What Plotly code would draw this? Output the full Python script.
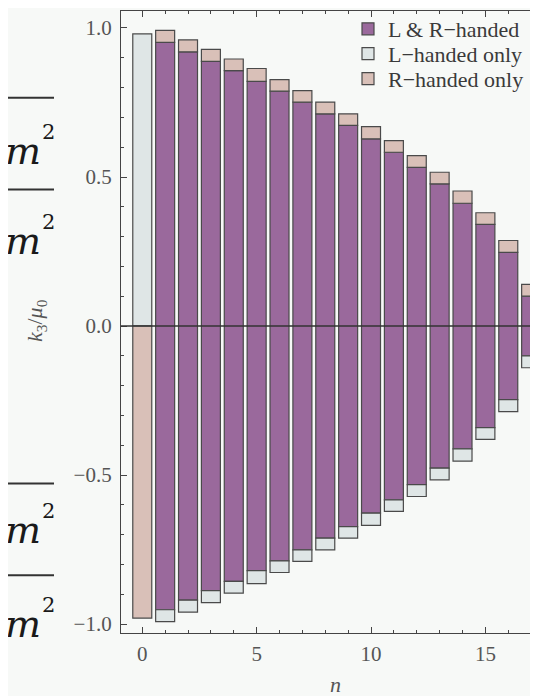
import plotly.graph_objects as go

# ---- data ----
n_vals = list(range(0, 18))
# half-height of the purple "L & R-handed" bar (symmetric about zero), n = 0 has none
lr_half = [0.0, 0.952, 0.920, 0.888, 0.857, 0.821, 0.788, 0.751, 0.712, 0.673,
           0.628, 0.583, 0.532, 0.477, 0.412, 0.341, 0.247, 0.100]
# outer extent of the bar including the single-handed cap
outer = [0.980, 0.992, 0.960, 0.928, 0.896, 0.864, 0.827, 0.790, 0.751, 0.712,
         0.669, 0.622, 0.572, 0.516, 0.453, 0.380, 0.287, 0.140]
y_ticks = [-1.0, -0.5, 0.0, 0.5, 1.0]
x_ticks = [0, 5, 10, 15]

PURPLE = "#9a699c"
LIGHT = "#dfe6e6"
PINK = "#d9c0b8"
EDGE = "#4a4a4a"
BG = "#f7f9f7"
SERIF = "Liberation Serif"

cap = [o - h for o, h in zip(outer, lr_half)]

# page body has an 8px margin: work in reference coords and shift by OFF
OFF = 8
W, H = 538 - OFF, 696 - OFF
L, R, T, B = 121 - OFF, 0, 9 - OFF, 696 - 633
pw = W - L - R
ph = H - T - B


def px_x(px):  # reference pixel -> paper
    return (px - OFF - L) / pw


def px_y(py):
    return (H - B - (py - OFF)) / ph


fig = go.Figure()
fig.add_trace(go.Bar(
    x=n_vals[1:], y=[2 * h for h in lr_half[1:]], base=[-h for h in lr_half[1:]],
    name="L & R\u2212handed", marker=dict(color=PURPLE, line=dict(color=EDGE, width=1.2)),
    width=0.83, legend="legend", showlegend=True))
fig.add_trace(go.Bar(
    x=n_vals, y=cap, base=[0.0 if h == 0 else -o for h, o in zip(lr_half, outer)],
    name="L\u2212handed only", marker=dict(color=LIGHT, line=dict(color=EDGE, width=1.2)),
    width=0.83, legend="legend2", showlegend=True))
fig.add_trace(go.Bar(
    x=n_vals, y=cap, base=[-o if h == 0 else h for h, o in zip(lr_half, outer)],
    name="R\u2212handed only", marker=dict(color=PINK, line=dict(color=EDGE, width=1.2)),
    width=0.83, legend="legend3", showlegend=True))

axis_common = dict(
    showline=True, linecolor="#444", linewidth=1.3, showgrid=False, zeroline=False,
    ticks="inside", tickcolor="#444", tickwidth=1.1, ticklen=6,
    tickfont=dict(family=SERIF, size=21, color="#555"),
)


def leg(py):
    return dict(x=px_x(340 + OFF), y=px_y(py), xanchor="left", yanchor="middle",
                bgcolor="rgba(0,0,0,0)", font=dict(family=SERIF, size=22, color="#3a3a3a"))


fig.update_layout(
    width=W, height=H, margin=dict(l=L, r=R, t=T, b=B, pad=0),
    paper_bgcolor=BG, plot_bgcolor=BG, barmode="overlay", showlegend=True,
    xaxis=dict(range=[-0.93, 17.30], tickvals=x_ticks, mirror="allticks",
               minor=dict(ticks="inside", ticklen=3, dtick=1, tick0=0, tickcolor="#444"),
               ticklabelstandoff=2, **axis_common),
    yaxis=dict(range=[-1.03, 1.057], tickvals=y_ticks, tickformat=".1f", mirror=False,
               minor=dict(ticks="inside", ticklen=3, dtick=0.1, tick0=0, tickcolor="#444"),
               ticklabelstandoff=4, **axis_common),
    legend=leg(27), legend2=leg(52), legend3=leg(77),
    font=dict(family=SERIF),
)

# zero line over the bars
fig.add_shape(type="line", xref="paper", x0=0, x1=1, yref="y", y0=0, y1=0,
              line=dict(color="#333", width=1.5), layer="above")

# axis titles
fig.add_annotation(text="<i>k</i><sub>3</sub>/<i>\u03bc</i><sub>0</sub>", xref="paper", yref="paper",
                   x=px_x(36), y=px_y(320), xanchor="center", yanchor="middle",
                   textangle=-90, showarrow=False,
                   font=dict(family=SERIF, size=22, color="#555"))
fig.add_annotation(text="<i>n</i>", xref="paper", yref="paper", x=px_x(335), y=px_y(685),
                   xanchor="center", yanchor="middle",
                   showarrow=False, font=dict(family=SERIF, size=22, color="#555"))

# cropped slide fragments at the left edge
for ly in [96, 188, 483, 575]:
    fig.add_shape(type="line", xref="paper", yref="paper", x0=px_x(-10), x1=px_x(54),
                  y0=px_y(ly), y1=px_y(ly), line=dict(color="#333", width=2))
for my in [149, 240, 530, 624]:
    fig.add_annotation(text="<i>m</i>", xref="paper", yref="paper", x=px_x(43), y=px_y(my),
                       xanchor="right", yanchor="middle", showarrow=False,
                       font=dict(family="DejaVu Serif", size=38, color="#1a1a1a"))
    fig.add_annotation(text="2", xref="paper", yref="paper", x=px_x(40), y=px_y(my - 19),
                       xanchor="left", yanchor="middle", showarrow=False,
                       font=dict(family="DejaVu Serif", size=21, color="#1a1a1a"))

fig.write_html("out.html")
